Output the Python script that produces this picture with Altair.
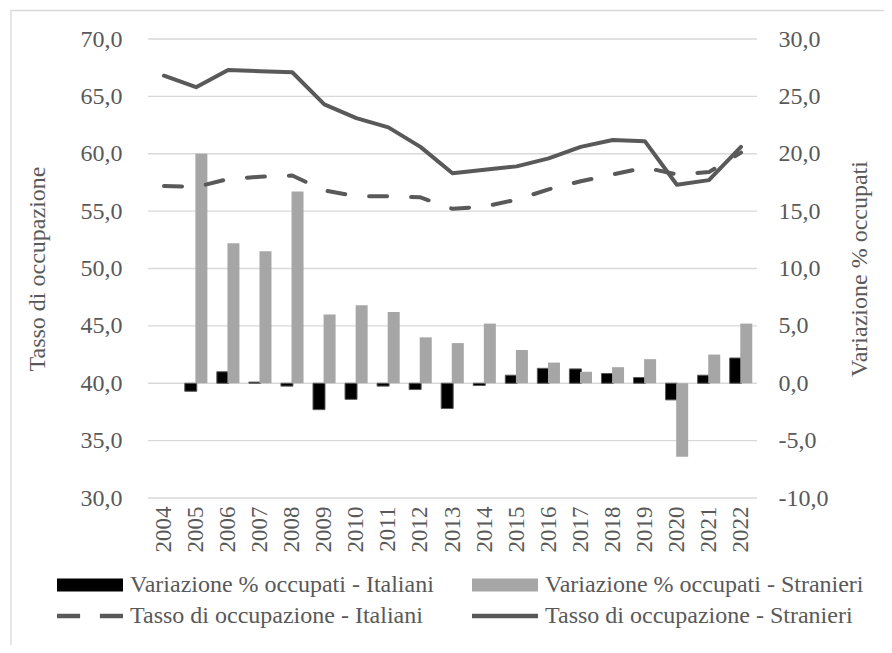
import altair as alt
import pandas as pd

years = [str(y) for y in range(2004, 2023)]
tasso_italiani = [57.2, 57.1, 57.8, 58.0, 58.1, 56.8, 56.3, 56.3, 56.2, 55.2,
                  55.4, 56.0, 56.9, 57.6, 58.2, 58.8, 58.2, 58.4, 60.1]
tasso_stranieri = [66.8, 65.8, 67.3, 67.2, 67.1, 64.3, 63.1, 62.3, 60.6, 58.3,
                   58.6, 58.9, 59.6, 60.6, 61.2, 61.1, 57.3, 57.7, 60.6]
var_italiani = [None, -0.7, 1.0, 0.1, -0.25, -2.3, -1.4, -0.25, -0.55, -2.2,
                -0.2, 0.7, 1.3, 1.25, 0.85, 0.5, -1.45, 0.7, 2.2]
var_stranieri = [None, 20.0, 12.2, 11.5, 16.7, 6.0, 6.8, 6.2, 4.0, 3.5,
                 5.2, 2.9, 1.8, 1.0, 1.4, 2.1, -6.4, 2.5, 5.2]
left_ticks = [30, 35, 40, 45, 50, 55, 60, 65, 70]
right_ticks = [-10, -5, 0, 5, 10, 15, 20, 25, 30]

# legend order (column-major in a 2-column legend)
series = ["Variazione % occupati - Italiani", "Tasso di occupazione - Italiani",
          "Variazione % occupati - Stranieri", "Tasso di occupazione - Stranieri"]
series_colors = ["#000000", "#595959", "#a6a6a6", "#595959"]
series_shapes = [
    "M-1,-0.197H1V0.197H-1Z",
    "M-1,-0.07H-0.3V0.07H-1Z M0.3,-0.07H1V0.07H0.3Z",
    "M-1,-0.197H1V0.197H-1Z",
    "M-1,-0.07H1V0.07H-1Z",
]

bars_df = pd.DataFrame({"anno": years, "it": var_italiani, "st": var_stranieri})
lines_df = pd.DataFrame({"anno": years, "it": tasso_italiani, "st": tasso_stranieri})
grid_df = pd.DataFrame({"v": left_ticks})
legend_df = pd.DataFrame({"serie": series})

FONT = "Liberation Serif"
TXT = "#595959"
GRID = "#d9d9d9"
W, H = 609, 459
num_expr = "(datum.value < 0 ? '-' : '') + replace(format(abs(datum.value), '.1f'), '.', ',')"

xscale = alt.Scale(domain=years, paddingInner=0, paddingOuter=0)
x_enc = alt.X(
    "anno:O", scale=xscale,
    axis=alt.Axis(title=None, labelAngle=-90, domain=False, ticks=False, grid=False,
                  labelPadding=8, labelFont=FONT, labelFontSize=23, labelColor=TXT),
)
x_line = alt.X("anno:O", bandPosition=0.5, scale=xscale)

left_dom = [30, 70]
right_dom = [-10, 30]

grid = alt.Chart(grid_df).mark_rule(color=GRID, strokeWidth=1.3).encode(
    y=alt.Y("v:Q", scale=alt.Scale(domain=left_dom, nice=False, zero=False), axis=None),
    x=alt.value(0),
    x2=alt.value(W),
)

bar_it = alt.Chart(bars_df).mark_bar(
    width=12, xOffset=-5.3, color="#000000", stroke="#595959", strokeWidth=1
).encode(
    x=x_enc,
    y=alt.Y("it:Q", scale=alt.Scale(domain=right_dom, nice=False),
            axis=alt.Axis(orient="right", values=right_ticks, labelExpr=num_expr,
                          title="Variazione % occupati", titleAngle=270, grid=False,
                          domain=False, ticks=False, labelPadding=21, titlePadding=44)),
)
bar_st = alt.Chart(bars_df).mark_bar(
    width=12, xOffset=5.3, color="#a6a6a6"
).encode(
    x=x_enc,
    y=alt.Y("st:Q", scale=alt.Scale(domain=right_dom, nice=False), axis=None),
)

line_it = alt.Chart(lines_df).mark_line(
    color="#595959", strokeWidth=4, strokeDash=[18, 24], strokeCap="round", strokeJoin="round"
).encode(
    x=x_line,
    y=alt.Y("it:Q", scale=alt.Scale(domain=left_dom, nice=False, zero=False),
            axis=alt.Axis(orient="left", values=left_ticks, labelExpr=num_expr,
                          title="Tasso di occupazione", grid=False,
                          domain=False, ticks=False, labelPadding=26, titlePadding=31)),
)
line_st = alt.Chart(lines_df).mark_line(
    color="#595959", strokeWidth=4, strokeCap="round", strokeJoin="round"
).encode(
    x=x_line,
    y=alt.Y("st:Q", scale=alt.Scale(domain=left_dom, nice=False, zero=False), axis=None),
)

leg = alt.Legend(title=None, orient="none", legendX=-91, legendY=532, columns=2,
                 columnPadding=38, rowPadding=3, labelOffset=7, symbolSize=4356,
                 symbolStrokeWidth=0, symbolOpacity=1, clipHeight=28, labelLimit=500)
legend_layer = alt.Chart(legend_df).mark_point(filled=True, opacity=1).encode(
    color=alt.Color("serie:N", scale=alt.Scale(domain=series, range=series_colors), legend=leg),
    shape=alt.Shape("serie:N", scale=alt.Scale(domain=series, range=series_shapes), legend=leg),
).transform_filter("false")

frame = alt.Chart(legend_df).mark_rect(
    fill="transparent", fillOpacity=0, stroke=GRID, strokeWidth=1.3
).encode(
    x=alt.value(-137), x2=alt.value(760), y=alt.value(-28.5), y2=alt.value(640)
).transform_filter("datum.serie == 'Variazione % occupati - Italiani'")

chart = alt.layer(
    frame, grid, bar_it, bar_st, line_it, line_st, legend_layer
).resolve_scale(y="independent").properties(
    width=W, height=H, background="white",
    autosize=alt.AutoSizeParams(type="none"),
    padding={"left": 140, "top": 31, "right": 127, "bottom": 147},
).configure_view(
    strokeWidth=0
).configure_axis(
    labelFont=FONT, labelFontSize=24, labelColor=TXT,
    titleFont=FONT, titleFontSize=24, titleColor=TXT, titleFontWeight="normal",
).configure_legend(
    labelFont=FONT, labelFontSize=24, labelColor=TXT,
)

chart.save("out.html", embed_options={"renderer": "svg", "actions": False})
